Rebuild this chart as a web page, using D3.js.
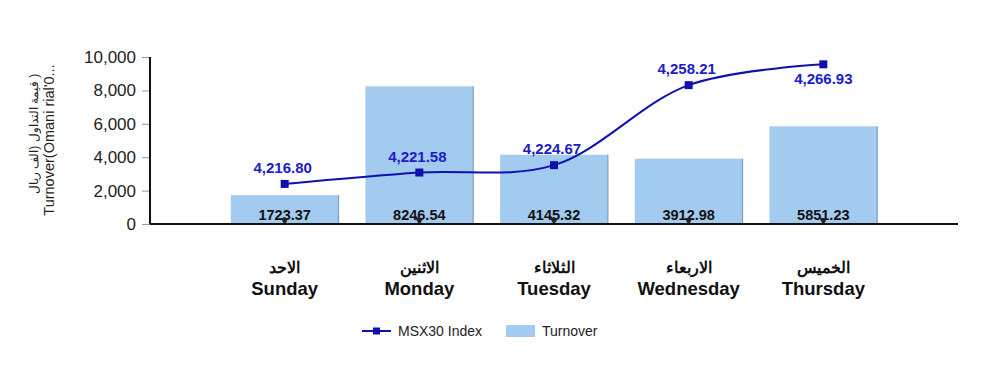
<!DOCTYPE html>
<html>
<head>
<meta charset="utf-8">
<script src="https://cdn.jsdelivr.net/npm/d3@7"></script>
<style>
  body { margin: 0; background: #fff; }
  svg { font-family: "Liberation Sans", Arial, sans-serif; }
</style>
</head>
<body>
<svg id="chart" width="1000" height="379"></svg>
<script>
// data
var daysEn = ["Sunday", "Monday", "Tuesday", "Wednesday", "Thursday"];
var daysAr = ["الاحد", "الاثنين", "الثلاثاء", "الاربعاء", "الخميس"];
var turnover = [1723.37, 8246.54, 4145.32, 3912.98, 5851.23];
var msx30 = [4216.80, 4221.58, 4224.67, 4258.21, 4266.93];
var yTicks = [0, 2000, 4000, 6000, 8000, 10000];

var svg = d3.select("#chart"),
    margin = {top: 57, right: 42, bottom: 155, left: 150},
    width = +svg.attr("width") - margin.left - margin.right,
    height = +svg.attr("height") - margin.top - margin.bottom,
    g = svg.append("g").attr("transform", "translate(" + margin.left + "," + margin.top + ")");

var x = d3.scalePoint().domain(daysEn).range([0, width]).padding(1);
var y = d3.scaleLinear().domain([0, 10000]).range([height, 0]);
var y2 = d3.scaleLinear().domain([4200, 4270]).range([height, 0]);
var barW = x.step() * 0.8;

// bars
g.selectAll("rect.bar")
  .data(turnover)
  .enter().append("rect")
    .attr("class", "bar")
    .attr("x", function(d, i) { return x(daysEn[i]) - barW / 2; })
    .attr("y", function(d) { return y(d); })
    .attr("width", barW)
    .attr("height", function(d) { return height - y(d); })
    .attr("fill", "#a3caef");

// subtle right edge shading on bars
g.selectAll("line.edge")
  .data(turnover)
  .enter().append("line")
    .attr("x1", function(d, i) { return x(daysEn[i]) + barW / 2; })
    .attr("x2", function(d, i) { return x(daysEn[i]) + barW / 2; })
    .attr("y1", function(d) { return y(d); })
    .attr("y2", height)
    .attr("stroke", "#7f9fbf")
    .attr("stroke-width", 1.2);

// bar value labels
g.selectAll("text.val")
  .data(turnover)
  .enter().append("text")
    .attr("x", function(d, i) { return x(daysEn[i]); })
    .attr("y", height - 4)
    .attr("text-anchor", "middle")
    .attr("font-size", 14.5)
    .attr("font-weight", "bold")
    .attr("fill", "#111")
    .text(function(d) { return d.toFixed(2); });

// little caret markers at base of bars
g.selectAll("path.caret")
  .data(turnover)
  .enter().append("path")
    .attr("d", function(d, i) {
      var cx = x(daysEn[i]);
      return "M" + (cx - 4) + "," + (height - 6) + "L" + (cx + 4) + "," + (height - 6) + "L" + cx + "," + (height + 1) + "Z";
    })
    .attr("fill", "#222");

// y axis
var yAxis = g.append("g")
  .call(d3.axisLeft(y).tickValues(yTicks).tickSize(8).tickPadding(6).tickFormat(d3.format(",")));
yAxis.select(".domain").remove();
yAxis.selectAll(".tick line").attr("stroke", "#999");
yAxis.selectAll(".tick text").attr("font-size", 17).attr("fill", "#222")
  .attr("font-family", "Liberation Sans, Arial, sans-serif");

g.append("line")
  .attr("x1", 0).attr("x2", 0).attr("y1", 0).attr("y2", height)
  .attr("stroke", "#111").attr("stroke-width", 2);
g.append("line")
  .attr("x1", 0).attr("x2", width).attr("y1", height).attr("y2", height)
  .attr("stroke", "#111").attr("stroke-width", 2);

// y axis title (two lines)
svg.append("text")
  .attr("transform", "translate(38,134) rotate(-90)")
  .attr("text-anchor", "middle")
  .attr("direction", "rtl")
  .attr("font-size", 12)
  .attr("fill", "#222")
  .text("( قيمة التداول (الف ريال");
svg.append("text")
  .attr("transform", "translate(54,140) rotate(-90)")
  .attr("text-anchor", "middle")
  .attr("font-size", 14.5)
  .attr("fill", "#222")
  .text("Turnover(Omani rial'0...");

// x category labels
var xl = g.selectAll("g.xl")
  .data(daysEn)
  .enter().append("g")
    .attr("transform", function(d) { return "translate(" + x(d) + "," + height + ")"; });
xl.append("text")
  .attr("y", 49)
  .attr("text-anchor", "middle")
  .attr("font-size", 16)
  .attr("font-weight", "bold")
  .attr("fill", "#111")
  .text(function(d, i) { return daysAr[i]; });
xl.append("text")
  .attr("y", 71)
  .attr("text-anchor", "middle")
  .attr("font-size", 18.5)
  .attr("font-weight", "bold")
  .attr("fill", "#111")
  .text(function(d) { return d; });

// MSX30 line
var line = d3.line()
  .x(function(d, i) { return x(daysEn[i]); })
  .y(function(d) { return y2(d); })
  .curve(d3.curveCatmullRom.alpha(0.5));

g.append("path")
  .datum(msx30)
  .attr("d", line)
  .attr("fill", "none")
  .attr("stroke", "#1010b0")
  .attr("stroke-width", 2);

g.selectAll("rect.pt")
  .data(msx30)
  .enter().append("rect")
    .attr("x", function(d, i) { return x(daysEn[i]) - 4; })
    .attr("y", function(d) { return y2(d) - 4; })
    .attr("width", 8).attr("height", 8)
    .attr("fill", "#1010b0");

g.selectAll("text.idx")
  .data(msx30)
  .enter().append("text")
    .attr("x", function(d, i) { return x(daysEn[i]) + (i == 4 ? 0 : -2); })
    .attr("y", function(d, i) { return i == 4 ? y2(d) + 20 : y2(d) - 11; })
    .attr("text-anchor", "middle")
    .attr("font-size", 15)
    .attr("font-weight", "bold")
    .attr("fill", "#1c1cc8")
    .text(function(d) { return d3.format(",.2f")(d); });

// legend
var lg = svg.append("g").attr("transform", "translate(362,331)");
lg.append("line").attr("x1", 0).attr("x2", 29).attr("y1", 0).attr("y2", 0)
  .attr("stroke", "#1010b0").attr("stroke-width", 2);
lg.append("rect").attr("x", 11).attr("y", -3.5).attr("width", 7).attr("height", 7).attr("fill", "#1010b0");
lg.append("text").attr("x", 36).attr("y", 5).attr("font-size", 14).attr("fill", "#222").text("MSX30 Index");
lg.append("rect").attr("x", 144).attr("y", -6).attr("width", 29).attr("height", 12).attr("fill", "#a3caef");
lg.append("text").attr("x", 180).attr("y", 5).attr("font-size", 14).attr("fill", "#222").text("Turnover");
</script>
</body>
</html>
